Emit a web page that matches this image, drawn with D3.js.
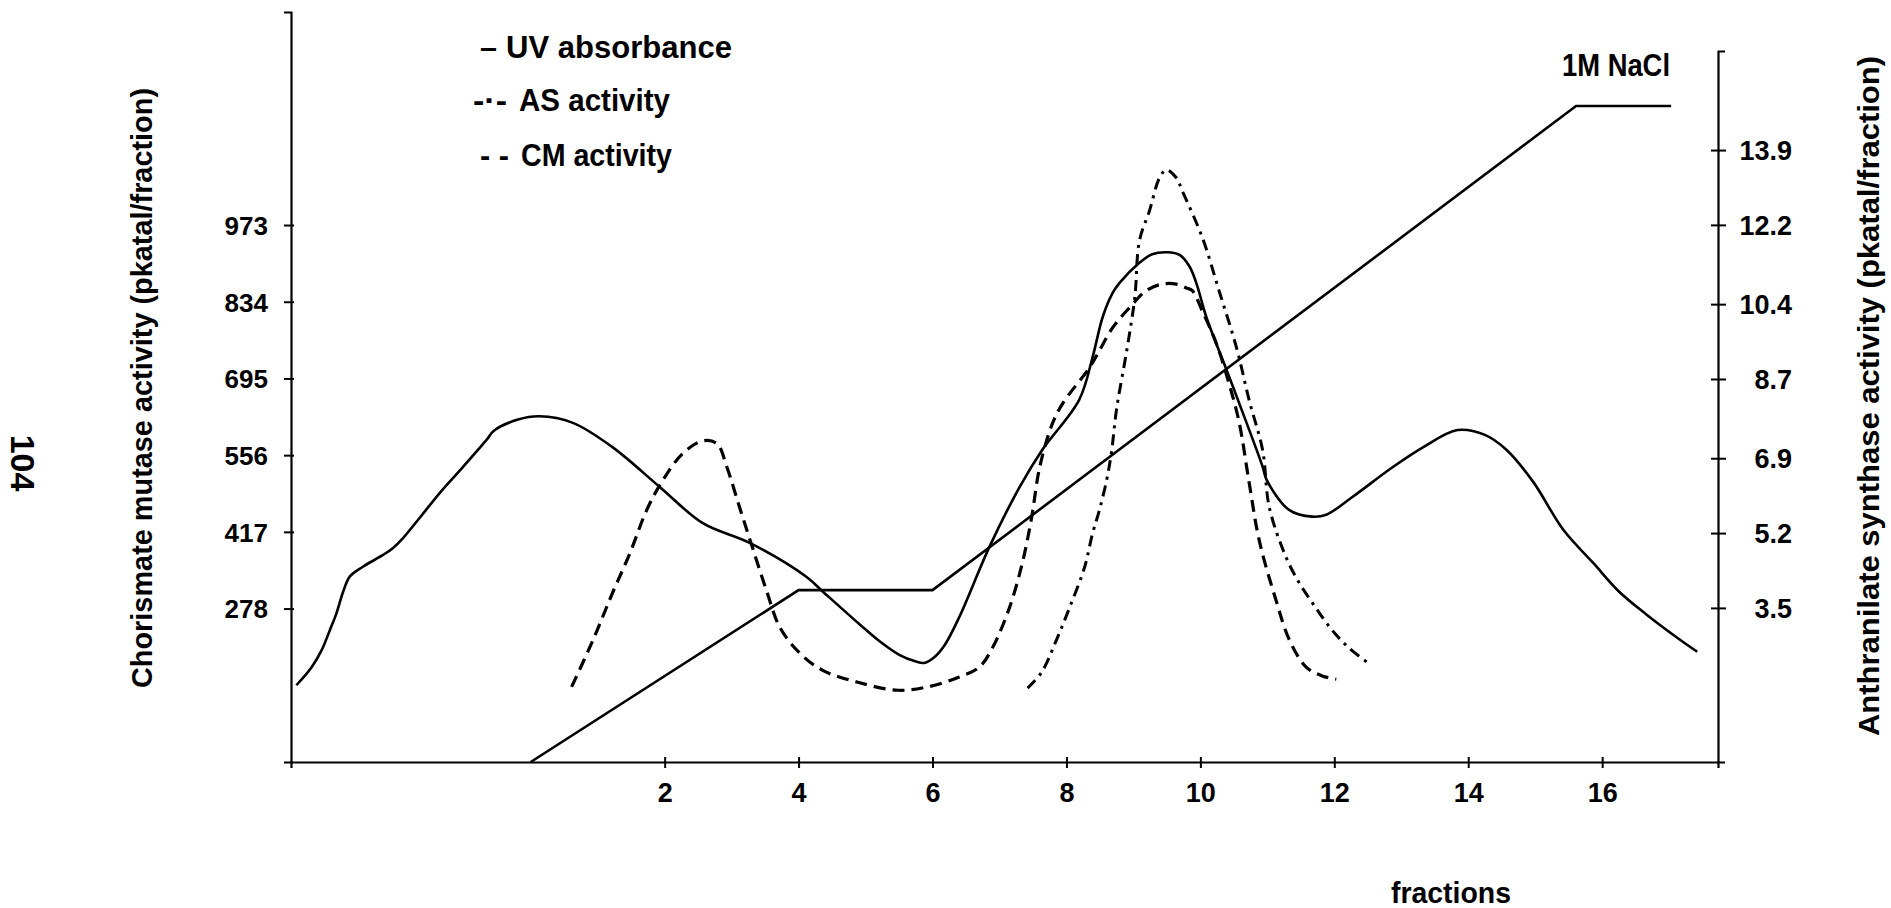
<!DOCTYPE html>
<html>
<head>
<meta charset="utf-8">
<script src="https://cdn.jsdelivr.net/npm/d3@7"></script>
<style>
  html, body { margin: 0; padding: 0; background: #fff; }
  svg { display: block; }
  text { font-family: "Liberation Sans", Arial, Helvetica, sans-serif; font-weight: bold; fill: #000; }
</style>
</head>
<body>
<svg id="chart" width="1891" height="908"></svg>
<script>
// ---------------- data ----------------
const fractionTicks = [2, 4, 6, 8, 10, 12, 14, 16];
const cmTicks = [278, 417, 556, 695, 834, 973];          // left axis (pkatal/fraction)
const asTicks = [3.5, 5.2, 6.9, 8.7, 10.4, 12.2, 13.9];  // right axis (pkatal/fraction)

// UV absorbance (relative units) : [fraction, value]
const uvAbsorbance = [
  [-3.50,0.117],[-3.27,0.145],[-3.12,0.171],[-3.00,0.201],[-2.90,0.227],[-2.80,0.260],[-2.70,0.283],
  [-2.50,0.298],[-2.20,0.316],[-2.06,0.326],[-1.91,0.341],[-1.66,0.372],[-1.36,0.410],[-1.01,0.450],
  [-0.66,0.491],[-0.55,0.505],[-0.19,0.522],[0.13,0.527],[0.63,0.517],[1.22,0.480],[1.93,0.419],
  [2.57,0.364],[3.27,0.334],[4.12,0.282],[4.36,0.260],[4.91,0.210],[5.21,0.184],[5.51,0.163],
  [5.73,0.154],[5.88,0.151],[6.03,0.160],[6.18,0.178],[6.40,0.221],[6.85,0.328],[7.30,0.419],
  [7.64,0.476],[8.19,0.552],[8.39,0.617],[8.54,0.678],[8.69,0.715],[8.79,0.730],[9.09,0.761],
  [9.28,0.774],[9.51,0.777],[9.69,0.773],[9.84,0.755],[9.94,0.730],[10.09,0.678],[10.39,0.598],
  [10.69,0.517],[10.93,0.450],[10.99,0.430],[11.33,0.384],[11.67,0.374],[11.88,0.377],[12.27,0.404],
  [12.88,0.450],[13.33,0.480],[13.84,0.506],[14.24,0.499],[14.57,0.476],[14.97,0.427],[15.42,0.354],
  [15.87,0.303],[16.25,0.260],[16.66,0.225],[17.10,0.191],[17.42,0.168]
];

// CM activity (left axis) : [fraction, pkatal/fraction]
const cmActivity = [
  [0.61,136],[0.93,221],[1.22,306],[1.48,378],[1.73,456],[1.97,510],[2.27,559],[2.57,582],
  [2.78,577],[2.93,534],[3.12,461],[3.31,389],[3.52,311],[3.72,244],[4.02,197],[4.36,166],
  [4.87,145],[5.49,130],[5.96,137],[6.40,154],[6.70,172],[6.90,208],[7.15,280],[7.34,360],
  [7.48,443],[7.60,534],[7.79,613],[7.94,649],[8.34,714],[8.49,745],[8.69,787],[8.94,823],
  [9.19,854],[9.43,866],[9.64,866],[9.79,859],[9.88,854],[10.03,817],[10.24,758],[10.43,685],
  [10.58,615],[10.73,505],[10.88,401],[11.13,293],[11.33,221],[11.58,172],[11.82,156],[12.03,150]
];

// AS activity (right axis) : [fraction, pkatal/fraction]
const asActivity = [
  [7.42,1.68],[7.63,2.04],[7.85,2.77],[8.05,3.52],[8.27,4.42],[8.39,5.19],[8.49,5.71],[8.60,6.40],
  [8.67,7.01],[8.75,8.03],[8.90,9.34],[9.02,10.54],[9.09,11.84],[9.24,12.52],[9.39,13.27],[9.49,13.45],
  [9.64,13.27],[9.73,12.97],[10.03,11.91],[10.28,10.70],[10.54,9.41],[10.73,8.21],[10.93,7.08],
  [11.03,5.78],[11.28,4.65],[11.48,4.06],[11.73,3.49],[11.97,2.99],[12.22,2.59],[12.55,2.20]
];

// NaCl gradient (M) : [fraction, molarity]
const naclGradient = [[0,0],[4,0.262],[6,0.262],[15.61,1],[17.03,1]];

const legendSymbols = ["\u2013", "-\u00b7-", "- -"];
const legendLabels = ["UV absorbance", "AS activity", "CM activity"];

// ---------------- scales ----------------
const svg = d3.select("#chart");
svg.append("rect").attr("width", 1891).attr("height", 908).attr("fill", "#fff");

const x = d3.scaleLinear().domain([-3.58, 17.73]).range([291, 1718]);
const yL = d3.scaleLinear().domain([0, 1359]).range([762, 12]);
const yR = d3.scaleLinear().domain([0, 16.15]).range([762, 51]);
const yRel = d3.scaleLinear().domain([0, 1]).range([762, 106]);

// ---------------- axes ----------------
const axisStroke = 2.2;
const gx = svg.append("g").attr("transform", `translate(0,${yL(0)})`)
  .call(d3.axisBottom(x).tickValues(fractionTicks).tickSizeOuter(0).tickSize(6).tickFormat(d3.format("d")));
gx.select(".domain").attr("stroke-width", axisStroke);
gx.selectAll(".tick line").attr("y1", -5).attr("y2", 6).attr("stroke-width", 2);
gx.selectAll(".tick text").attr("y", 21).attr("dy", "0.71em").style("font-size", "27px");

const gl = svg.append("g").attr("transform", `translate(${x.range()[0]},0)`)
  .call(d3.axisLeft(yL).tickValues(cmTicks).tickSizeOuter(0).tickSize(7));
gl.select(".domain").attr("stroke-width", axisStroke);
gl.selectAll(".tick line").attr("x1", 3).attr("x2", -7).attr("stroke-width", 2);
gl.selectAll(".tick text").attr("x", -23).attr("dy", "0.36em").style("font-size", "26px");

const gr = svg.append("g").attr("transform", `translate(${x.range()[1]},0)`)
  .call(d3.axisRight(yR).tickValues(asTicks).tickSizeOuter(0).tickSize(7).tickFormat(d3.format(".1f")));
gr.select(".domain").attr("stroke-width", axisStroke);
gr.selectAll(".tick line").attr("x1", -7).attr("x2", 8).attr("stroke-width", 2);
gr.selectAll(".tick text").attr("x", 74).attr("text-anchor", "end").attr("dy", "0.36em").style("font-size", "27px");

svg.selectAll(".domain, .tick line").attr("stroke", "#000");
svg.selectAll(".tick text").attr("fill", "#000").style("font-family", "'Liberation Sans', Arial, sans-serif").style("font-weight", "bold");

// ---------------- lines ----------------
const lineRel = d3.line().x(d => x(d[0])).y(d => yRel(d[1])).curve(d3.curveCatmullRom.alpha(0.5));
const lineL = d3.line().x(d => x(d[0])).y(d => yL(d[1])).curve(d3.curveCatmullRom.alpha(0.5));
const lineR = d3.line().x(d => x(d[0])).y(d => yR(d[1])).curve(d3.curveCatmullRom.alpha(0.5));
const lineN = d3.line().x(d => x(d[0])).y(d => yRel(d[1]));

svg.append("path").datum(naclGradient).attr("d", lineN)
  .attr("fill", "none").attr("stroke", "#000").attr("stroke-width", 2.6);
svg.append("path").datum(uvAbsorbance).attr("d", lineRel)
  .attr("fill", "none").attr("stroke", "#000").attr("stroke-width", 2.6);
svg.append("path").datum(cmActivity).attr("d", lineL)
  .attr("fill", "none").attr("stroke", "#000").attr("stroke-width", 3.2).attr("stroke-dasharray", "12,7");
svg.append("path").datum(asActivity).attr("d", lineR)
  .attr("fill", "none").attr("stroke", "#000").attr("stroke-width", 3).attr("stroke-dasharray", "11,6,3,6");

// ---------------- texts ----------------
const legendSymX = [480, 473, 480];
const legendSymW = [17, 34, 29];
const legendLabX = [506, 519, 521];
const legendLabW = [226, 151, 151];
const legendY = [58, 111, 166];
svg.selectAll("text.legsym").data(legendSymbols).join("text").attr("class", "legsym")
  .attr("x", (d, i) => legendSymX[i]).attr("y", (d, i) => legendY[i])
  .attr("textLength", (d, i) => legendSymW[i]).attr("lengthAdjust", "spacingAndGlyphs")
  .style("font-size", "31px").text(d => d);
svg.selectAll("text.leglab").data(legendLabels).join("text").attr("class", "leglab")
  .attr("x", (d, i) => legendLabX[i]).attr("y", (d, i) => legendY[i])
  .attr("textLength", (d, i) => legendLabW[i]).attr("lengthAdjust", "spacingAndGlyphs")
  .style("font-size", "31px").text(d => d);

svg.append("text").attr("x", 1562).attr("y", 76).attr("textLength", 108).attr("lengthAdjust", "spacingAndGlyphs")
  .style("font-size", "31px").text("1M NaCl");
svg.append("text").attr("x", 1451).attr("y", 903).attr("text-anchor", "middle")
  .attr("textLength", 120).attr("lengthAdjust", "spacingAndGlyphs")
  .style("font-size", "29px").text("fractions");

svg.append("text").attr("transform", "translate(152,388) rotate(-90)").attr("text-anchor", "middle")
  .attr("textLength", 600).attr("lengthAdjust", "spacingAndGlyphs")
  .style("font-size", "29px").text("Chorismate mutase activity (pkatal/fraction)");
svg.append("text").attr("transform", "translate(1879,396) rotate(-90)").attr("text-anchor", "middle")
  .attr("textLength", 680).attr("lengthAdjust", "spacingAndGlyphs")
  .style("font-size", "30px").text("Anthranilate synthase activity (pkatal/fraction)");
svg.append("text").attr("transform", "translate(11,463) rotate(90)").attr("text-anchor", "middle")
  .style("font-size", "34px").text("104");
</script>
</body>
</html>
